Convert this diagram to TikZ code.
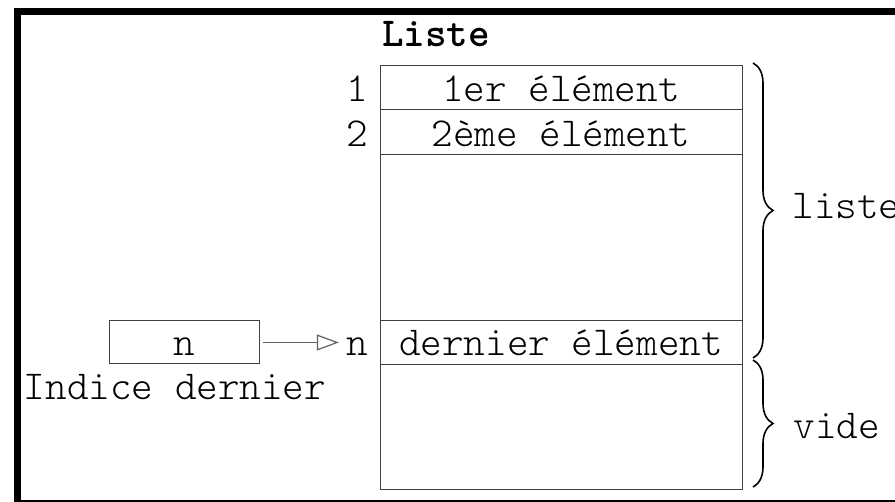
\documentclass[tikz,border=0pt]{standalone}
\usepackage{fontspec}
\usetikzlibrary{arrows.meta,decorations.pathreplacing}
\definecolor{linec}{RGB}{64,64,64}
\definecolor{arrc}{RGB}{96,96,96}
\newcommand{\monofnt}{\fontfamily{lmtt}\fontseries{l}\fontsize{20.57}{22}\selectfont}
\newcommand{\monobold}{\fontfamily{lmtt}\fontseries{b}\fontsize{20.57}{22}\selectfont}
\begin{document}
\begin{tikzpicture}[x=0.5pt,y=-0.5pt,
  txt/.style={inner sep=0pt,font=\monofnt,anchor=base},
  tbl/.style={draw=linec,line width=0.5pt},
  brc/.style={draw=black,line width=0.8pt,decorate,decoration={brace,amplitude=10pt}},
  ptr/.style={draw=arrc,line width=0.6pt,-{Triangle[open,length=11pt,width=8pt]}}
]
\useasboundingbox (0,0) rectangle (895,502);
\clip (0,0) rectangle (895,502);
% frame
\fill[black] (14,8) rectangle (895,15);
\fill[black] (14,8) rectangle (21,502);
\fill[black] (21,499.5) rectangle (895,501.5);
% title
\node[txt,font=\monobold] (title) at (436,47) {Liste};
% table
\draw[tbl] (380,66) rectangle (742,489);
\draw[tbl] (380,110) -- (742,110);
\draw[tbl] (380,155) -- (742,155);
\draw[tbl] (380,321) -- (742,321);
\draw[tbl] (380,365) -- (742,365);
\node[txt] (e1) at (561,102) {1er élément};
\node[txt] (e2) at (561,147) {2ème élément};
\node[txt] (en) at (561,356) {dernier élément};
\node[txt] (i1) at (357,102) {1};
\node[txt] (i2) at (357,147) {2};
\node[txt] (in) at (357,356) {n};
% index box
\node[tbl,minimum width=75pt,minimum height=21.5pt,inner sep=0pt] (idx) at (184,342.5) {};
\node[txt] (idxv) at (184,356) {n};
\node[txt] (idxl) at (175,400) {Indice dernier};
\draw[ptr,shorten <=1.5pt,shorten >=3.5pt] (idx.east) -- (in.west |- idx.east);
% braces
\draw[brc] (753,63) -- (753,358);
\draw[brc] (753,360) -- (753,487);
\node[txt,anchor=base west] (lliste) at (792,219) {liste};
\node[txt,anchor=base west] (lvide) at (793,438) {vide};
\end{tikzpicture}
\end{document}
